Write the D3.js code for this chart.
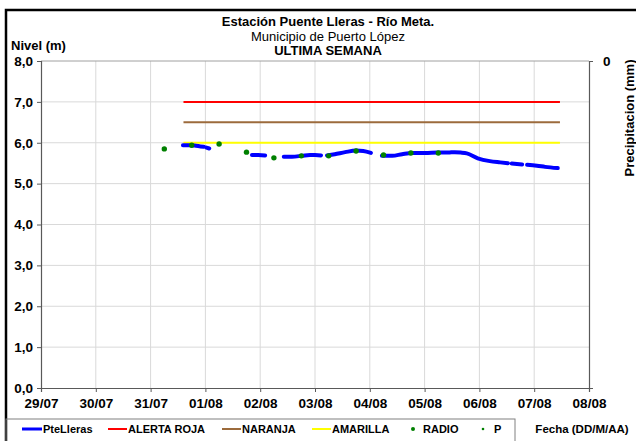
<!DOCTYPE html>
<html><head><meta charset="utf-8">
<script src="https://cdn.jsdelivr.net/npm/d3@7"></script>
<style>body{margin:0;background:#fff}svg{display:block;font-family:"Liberation Sans",Arial,sans-serif}</style>
</head><body>
<svg id="c" width="636" height="441"></svg>
<script>
// ---- data (x = days since 29/07 00:00) ----
const dayLabels = ["29/07","30/07","31/07","01/08","02/08","03/08","04/08","05/08","06/08","07/08","08/08"];
const levelTicks = [0,1,2,3,4,5,6,7,8];
const pteLlerasDays = [2.59,2.70,2.80,2.91,2.97,null,3.02,3.07,null,3.85,3.96,4.09,null,4.43,4.58,4.76,4.91,5.00,5.11,null,5.22,5.36,5.55,5.75,5.88,6.02,null,6.22,6.41,6.59,6.77,7.01,7.24,7.43,7.55,7.66,7.77,7.97,8.19,8.38,8.52,null,8.59,8.78,null,8.87,9.05,9.20,9.43];
const pteLlerasValues = [5.94,5.94,5.93,5.91,5.90,null,5.88,5.86,null,5.70,5.70,5.69,null,5.66,5.66,5.68,5.70,5.70,5.69,null,5.69,5.72,5.77,5.81,5.80,5.75,null,5.68,5.68,5.72,5.75,5.75,5.76,5.76,5.77,5.76,5.74,5.62,5.55,5.52,5.50,null,5.49,5.47,null,5.46,5.44,5.41,5.38];
const radioDays = [2.25,2.75,3.25,3.75,4.25,4.75,5.25,5.75,6.25,6.75,7.25];
const radioValues = [5.85,5.94,5.97,5.77,5.63,5.68,5.68,5.80,5.70,5.75,5.75];
const precipDays = [];
const precipValues = [];
const alertSpan = [2.60, 9.47];
const alertNames = ["ALERTA ROJA","NARANJA","AMARILLA"];
const alertValues = [7.0, 6.5, 6.0];
const alertColors = ["#ff0000","#9c6b3c","#ffff00"];

const svg = d3.select("#c");
const L=41, R=589, T=61, B=388;
const x = d3.scaleLinear().domain([0,10]).range([L,R]);
const y = d3.scaleLinear().domain([0,8]).range([B,T]);
const y2 = d3.scaleLinear().domain([0,1]).range([T,B]);

// outer border
svg.append("rect").attr("x",6).attr("y",10).attr("width",650).attr("height",450)
  .attr("fill","none").attr("stroke","#000").attr("stroke-width",2.5);

// grid
const g = svg.append("g");
g.selectAll(".vg").data(d3.range(1,10)).join("line")
  .attr("x1",d=>x(d)).attr("x2",d=>x(d)).attr("y1",T).attr("y2",B)
  .attr("stroke","#d9d9d9").attr("stroke-width",1);
g.selectAll(".hg").data(levelTicks.filter(d=>d>0)).join("line")
  .attr("x1",L).attr("x2",R).attr("y1",d=>y(d)).attr("y2",d=>y(d))
  .attr("stroke",d=>d===8?"#a0a0a0":"#d9d9d9").attr("stroke-width",1);

// axes
const yAxis = svg.append("g").attr("transform",`translate(${L},0)`)
  .call(d3.axisLeft(y).tickValues(levelTicks).tickFormat(d=>d3.format(".1f")(d).replace(".",",")).tickSize(4).tickPadding(4));
const xAxis = svg.append("g").attr("transform",`translate(0,${B})`)
  .call(d3.axisBottom(x).tickValues(d3.range(0,11)).tickFormat(d=>dayLabels[d]).tickSize(4).tickPadding(6));
const y2Axis = svg.append("g").attr("transform",`translate(${R},0)`)
  .call(d3.axisRight(y2).tickValues([0]).tickFormat(d=>String(d)).tickSize(4).tickPadding(10));
[yAxis,xAxis,y2Axis].forEach(a=>{
  a.select(".domain").attr("stroke","#595959").attr("stroke-width",1.2);
  a.selectAll(".tick line").attr("stroke","#595959");
  a.selectAll("text").attr("font-size",13.5).attr("font-weight","bold").attr("fill","#000")
   .attr("font-family","Liberation Sans, Arial, sans-serif");
});

// alert lines
alertValues.forEach((v,i)=>{
  svg.append("line").attr("x1",x(alertSpan[0])).attr("x2",x(alertSpan[1]))
    .attr("y1",y(v)).attr("y2",y(v)).attr("stroke",alertColors[i]).attr("stroke-width",2);
});

// level line
const lvl = pteLlerasDays.map((d,i)=>({d, v:pteLlerasValues[i]}));
svg.append("path").datum(lvl)
  .attr("d",d3.line().defined(p=>p.d!==null).x(p=>x(p.d)).y(p=>y(p.v)).curve(d3.curveMonotoneX))
  .attr("fill","none").attr("stroke","#0000ff").attr("stroke-width",4).attr("stroke-linecap","round");

// radio points
svg.selectAll(".rad").data(radioDays.map((d,i)=>({d,v:radioValues[i]}))).join("circle")
  .attr("cx",p=>x(p.d)).attr("cy",p=>y(p.v)).attr("r",2.7).attr("fill","#008000");
// precipitation points (none)
svg.selectAll(".pp").data(precipDays.map((d,i)=>({d,v:precipValues[i]}))).join("circle")
  .attr("cx",p=>x(p.d)).attr("cy",p=>y2(p.v)).attr("r",1.5).attr("fill","#008000");

// titles
const t = (txt,xx,yy,size,weight,anchor)=>svg.append("text").text(txt).attr("x",xx).attr("y",yy)
  .attr("font-size",size).attr("font-weight",weight).attr("text-anchor",anchor||"middle").attr("fill","#000");
t("Estación Puente Lleras - Río Meta.",328,26,13,"bold");
t("Municipio de Puerto López",328,41,13,"normal");
t("ULTIMA SEMANA",328,55,13,"bold");
t("Nivel (m)",11,50,13,"bold","start");
t("Fecha (DD/M/AA)",582,433,11.5,"bold");
svg.append("text").text("Precipitacion (mm)").attr("transform","translate(634,118) rotate(-90)")
  .attr("font-size",13).attr("font-weight","bold").attr("text-anchor","middle");

// legend
svg.append("rect").attr("x",6).attr("y",419).attr("width",509).attr("height",30)
  .attr("fill","none").attr("stroke","#808080").attr("stroke-width",1);
const ly=429, lty=433;
const leg = [
  {type:"line",color:"#0000ff",w:3,x1:22,x2:42,label:"PteLleras",tx:43},
  {type:"line",color:alertColors[0],w:2,x1:108,x2:127,label:alertNames[0],tx:128},
  {type:"line",color:alertColors[1],w:2,x1:222,x2:241,label:alertNames[1],tx:242},
  {type:"line",color:alertColors[2],w:2,x1:312,x2:331,label:alertNames[2],tx:332},
  {type:"dot",color:"#008000",r:2,cx:413,label:"RADIO",tx:423},
  {type:"dot",color:"#008000",r:1.3,cx:483,label:"P",tx:494}
];
leg.forEach(l=>{
  if(l.type==="line") svg.append("line").attr("x1",l.x1).attr("x2",l.x2).attr("y1",ly).attr("y2",ly).attr("stroke",l.color).attr("stroke-width",l.w);
  else svg.append("circle").attr("cx",l.cx).attr("cy",ly).attr("r",l.r).attr("fill",l.color);
  t(l.label,l.tx,lty,11,"bold","start");
});
</script>
</body></html>
